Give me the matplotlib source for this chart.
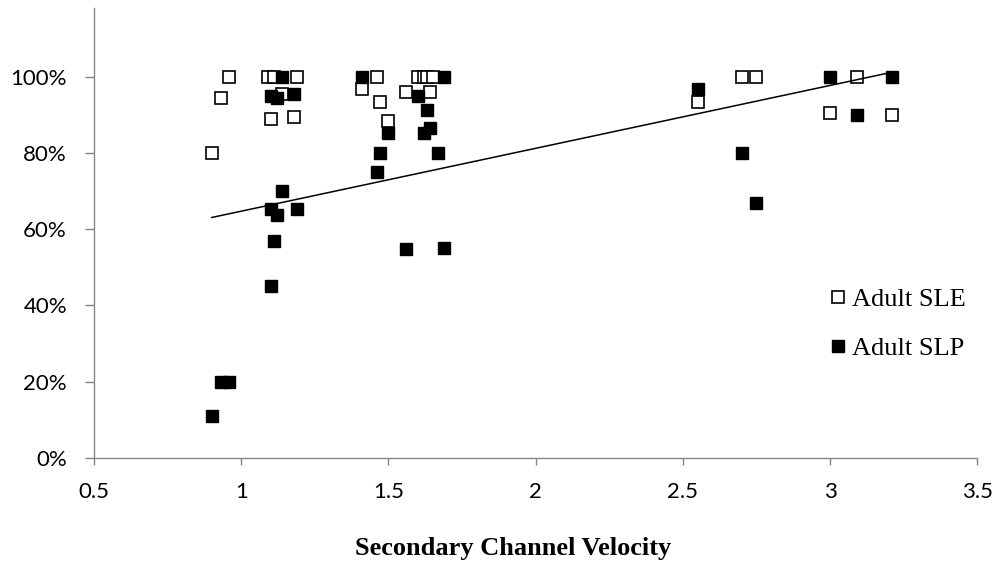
import matplotlib.pyplot as plt
import numpy as np
from matplotlib.ticker import PercentFormatter

# Adult SLE (open squares)
sle_x = [0.90, 0.93, 0.96, 1.09, 1.10, 1.11, 1.14, 1.18, 1.19,
         1.41, 1.46, 1.47, 1.50, 1.56, 1.60, 1.62, 1.63, 1.64, 1.65,
         2.55, 2.70, 2.75, 3.00, 3.09, 3.21]
sle_y = [0.80, 0.945, 1.00, 1.00, 0.89, 1.00, 0.953, 0.895, 1.00,
         0.968, 1.00, 0.932, 0.884, 0.96, 1.00, 1.00, 1.00, 0.96, 1.00,
         0.932, 1.00, 1.00, 0.905, 1.00, 0.90]

# Adult SLP (filled squares)
slp_x = [0.90, 0.93, 0.96, 1.10, 1.10, 1.10, 1.11, 1.12, 1.12, 1.14, 1.14, 1.18, 1.19,
         1.41, 1.46, 1.47, 1.50, 1.56, 1.60, 1.62, 1.63, 1.64, 1.67, 1.69, 1.69,
         2.55, 2.70, 2.75, 3.00, 3.09, 3.21]
slp_y = [0.11, 0.20, 0.20, 0.95, 0.45, 0.654, 0.57, 0.638, 0.945, 1.00, 0.70, 0.953, 0.654,
         1.00, 0.75, 0.80, 0.853, 0.548, 0.95, 0.853, 0.911, 0.866, 0.80, 1.00, 0.551,
         0.968, 0.80, 0.669, 1.00, 0.90, 1.00]

x_ticks = [0.5, 1, 1.5, 2, 2.5, 3, 3.5]
y_ticks = [0, 0.2, 0.4, 0.6, 0.8, 1.0]

fig = plt.figure(figsize=(9.98, 5.64), dpi=100)
ax = fig.add_axes([0.0942, 0.188, 0.885, 0.798])

ax.plot(sle_x, sle_y, 's', markersize=8.5, markerfacecolor='white',
        markeredgecolor='black', markeredgewidth=1.2, label='Adult SLE')
ax.plot(slp_x, slp_y, 's', markersize=8.5, color='black', label='Adult SLP')

# linear trendline through the SLP points
coef = np.polyfit(slp_x, slp_y, 1)
tx = np.array([min(slp_x), max(slp_x)])
ax.plot(tx, np.polyval(coef, tx), color='black', linewidth=1.1)

ax.set_xlim(0.5, 3.5)
ax.set_ylim(0, 1.18)
ax.set_xticks(x_ticks)
ax.set_xticklabels(['0.5', '1', '1.5', '2', '2.5', '3', '3.5'])
ax.set_yticks(y_ticks)
ax.yaxis.set_major_formatter(PercentFormatter(1.0, decimals=0))

for s in ['top', 'right']:
    ax.spines[s].set_visible(False)
for s in ['left', 'bottom']:
    ax.spines[s].set_color('#868686')
    ax.spines[s].set_linewidth(1.0)
ax.tick_params(colors='#868686', width=1, labelcolor='black', labelsize=16)
ax.tick_params(axis='y', length=6.5, pad=13)
ax.tick_params(axis='x', length=5, pad=12)
for lab in ax.get_xticklabels() + ax.get_yticklabels():
    lab.set_family(['Lato', 'DejaVu Sans'])

fig.text(513 / 998, 1 - 548 / 564, 'Secondary Channel Velocity',
         family='Liberation Serif', fontweight='bold', fontsize=19,
         ha='center', va='center')

leg = ax.legend(loc='center left', bbox_to_anchor=(830 / 998, 1 - 324 / 564),
                bbox_transform=fig.transFigure, frameon=False, borderpad=0,
                borderaxespad=0, prop={'family': 'Liberation Serif', 'size': 19},
                handlelength=0.6, handletextpad=0.23, labelspacing=0.95)

fig.savefig('out.png', dpi=100)
